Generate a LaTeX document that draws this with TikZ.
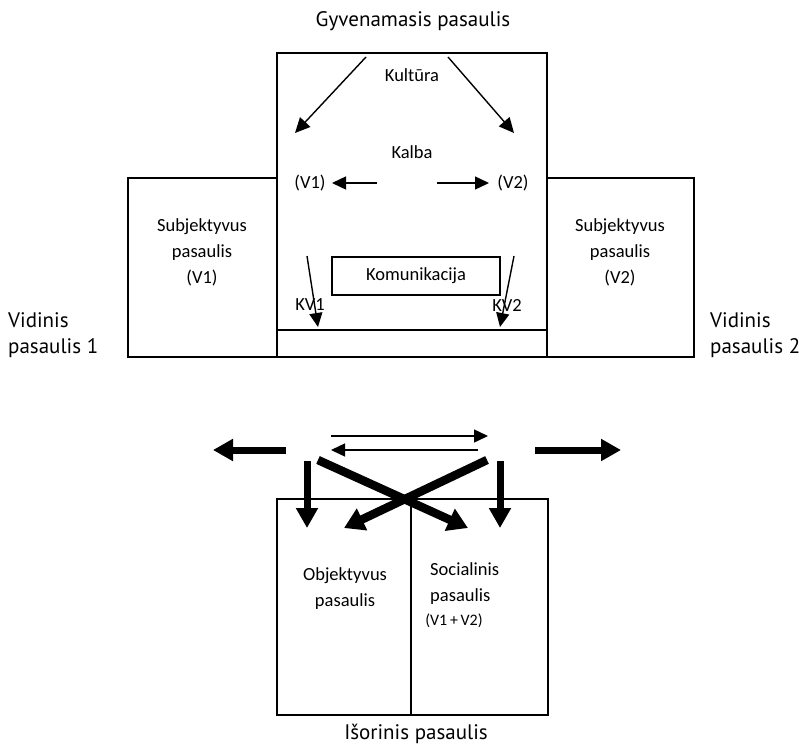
\documentclass[tikz,border=0pt]{standalone}
\usepackage{fontspec}
\setmainfont{Carlito}
\newfontfamily\outerfont{PT Sans}
\usetikzlibrary{arrows.meta}
\tikzset{
  box/.style={draw, line width=1.2pt, inner sep=0pt},
  inner/.style={font=\fontsize{18.5}{26}\selectfont, align=center, inner sep=0pt},
  outer/.style={font=\outerfont\fontsize{21}{26}\selectfont, align=left, inner sep=0pt},
  thin/.style={line width=1.4pt, -{Triangle[length=15pt,width=14pt]}},
  thinb/.style={line width=1.4pt, -{Triangle[length=14pt,width=13pt]}},
  thick/.style={line width=7pt, -{Triangle[length=20pt,width=21pt]}},
  thickd/.style={line width=8.5pt, -{Triangle[length=20pt,width=23pt]}}
}
\begin{document}
\begin{tikzpicture}[x=1pt,y=-1pt]
\useasboundingbox (0,0) rectangle (799,747);
% boxes
\draw[box] (277,53) rectangle (547,357);
\draw[box] (277,330) -- (547,330);
\draw[box] (128,178) rectangle (277,357);
\draw[box] (547,178) rectangle (694,357);
\draw[box] (277,499) rectangle (548,715);
\draw[box] (411,499) -- (411,715);
\node[box, minimum width=168pt, minimum height=38pt] (kom) at (416,276) {};
\node[inner] at (kom) {Komunikacija};
% texts
\node[outer, anchor=center] (title) at (413,21) {Gyvenamasis pasaulis};
\node[outer, anchor=center] (isor) at (416,734) {Išorinis pasaulis};
\node[outer, anchor=west] (vid1) at (8,335) {Vidinis\\pasaulis 1};
\node[outer, anchor=west] (vid2) at (710,335) {Vidinis\\pasaulis 2};
\node[inner] (kult) at (412,75) {Kultūra};
\node[inner] (kalba) at (412,152) {Kalba};
\node[inner] (v1) at (310,183) {(V1)};
\node[inner] (v2) at (513,183) {(V2)};
\node[inner] (subj1) at (202,252) {Subjektyvus\\pasaulis\\(V1)};
\node[inner] (subj2) at (620,252) {Subjektyvus\\pasaulis\\(V2)};
\node[inner] (kv1) at (310,305) {KV1};
\node[inner] (kv2) at (507,305) {KV2};
\node[inner] (obj) at (345,589) {Objektyvus\\pasaulis};
\node[inner, align=left, anchor=north west] (soc) at (430,562) {Socialinis\\pasaulis};
\node[inner, font=\fontsize{16}{18}\selectfont] (socv) at (454,621) {(V1\,+\,V2)};
% coordinates
\coordinate (k1s) at (366,57); \coordinate (k1e) at (295,133);
\coordinate (k2s) at (448,57); \coordinate (k2e) at (514,133);
\coordinate (h1s) at (377,183); \coordinate (h1e) at (332,183);
\coordinate (h2s) at (437,183); \coordinate (h2e) at (489,183);
\coordinate (kv1s) at (307,256); \coordinate (kv1e) at (318,327);
\coordinate (kv2s) at (514,256); \coordinate (kv2e) at (500,327);
\coordinate (t1s) at (331,436); \coordinate (t1e) at (488,436);
\coordinate (t2s) at (478,450); \coordinate (t2e) at (331,450);
\coordinate (la s) at (286,450); \coordinate (la e) at (213,450);
\coordinate (ra s) at (535,450); \coordinate (ra e) at (621,450);
\coordinate (d1s) at (307,461); \coordinate (d1e) at (307,528);
\coordinate (d2s) at (500,461); \coordinate (d2e) at (500,528);
\coordinate (x1s) at (318,460); \coordinate (x1e) at (468,528);
\coordinate (x2s) at (487,460); \coordinate (x2e) at (344,528);
% arrows top
\draw[thin] (k1s) -- (k1e);
\draw[thin] (k2s) -- (k2e);
\draw[thinb] (h1s) -- (h1e);
\draw[thinb] (h2s) -- (h2e);
\draw[thinb] (kv1s) -- (kv1e);
\draw[thinb] (kv2s) -- (kv2e);
% arrows bottom
\draw[thinb] (t1s) -- (t1e);
\draw[thinb] (t2s) -- (t2e);
\draw[thick] (la s) -- (la e);
\draw[thick] (ra s) -- (ra e);
\draw[thick] (d1s) -- (d1e);
\draw[thick] (d2s) -- (d2e);
\draw[thickd] (x1s) -- (x1e);
\draw[thickd] (x2s) -- (x2e);
\end{tikzpicture}
\end{document}
